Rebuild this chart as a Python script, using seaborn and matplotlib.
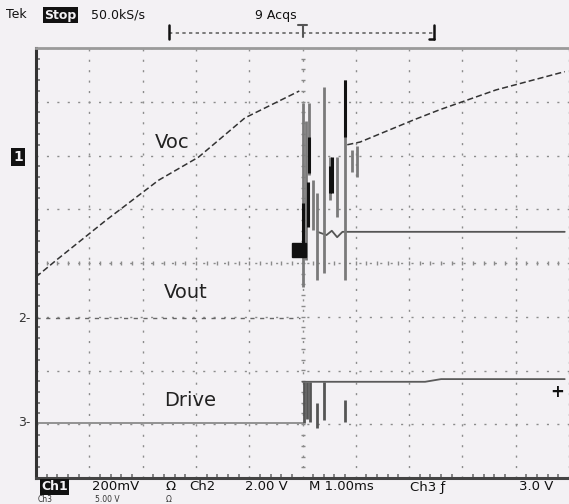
import numpy as np
import matplotlib.pyplot as plt
import seaborn as sns

# --------------------------
# Trace data (time in ms from trigger, level in screen divisions)
# --------------------------
voc_pre_t = [-5.0, -4.61, -3.68, -2.70, -1.95, -1.08, -0.06]
voc_pre_v = [-0.26, 0.06, 0.80, 1.54, 1.97, 2.70, 3.20]
voc_post_t = [0.84, 1.08, 2.08, 2.57, 3.63, 4.92]
voc_post_v = [2.20, 2.25, 2.66, 2.85, 3.22, 3.56]

vout_pre_t = [-5.0, -0.05]
vout_pre_v = [-1.02, -1.02]
vout_post_t = [0.28, 0.45, 0.55, 0.65, 0.75, 0.95, 4.92]
vout_post_v = [0.58, 0.52, 0.60, 0.48, 0.58, 0.58, 0.58]

drive_pre_t = [-5.0, 0.0]
drive_pre_v = [-2.98, -2.98]
drive_post_t = [0.0, 2.3, 2.6, 4.92]
drive_post_v = [-2.21, -2.21, -2.16, -2.16]

# ringing right after the switch event (vertical excursions)
ring_t = [0.0, 0.06, 0.13, 0.20, 0.28, 0.41, 0.52, 0.65, 0.80, 0.93, 1.02]
ring_hi = [2.98, 2.65, 2.98, 1.54, 1.30, 3.27, 1.97, 1.97, 3.40, 2.10, 2.18]
ring_lo = [-0.45, 0.06, 1.64, 0.61, -0.32, -0.19, 1.17, 0.86, -0.32, 1.69, 1.60]
dark_t = [0.0, 0.10, 0.13, 0.52, 0.56, 0.80]
dark_hi = [1.12, 1.50, 2.34, 1.80, 1.97, 3.40]
dark_lo = [0.30, 0.67, 1.67, 1.30, 1.30, 2.34]

drive_ring_t = [0.02, 0.08, 0.14, 0.28, 0.41, 0.80]
drive_ring_hi = [-2.21, -2.21, -2.21, -2.61, -2.21, -2.55]
drive_ring_lo = [-2.98, -2.90, -2.95, -3.07, -2.92, -2.95]

trig_t = [-0.06]
trig_v = [0.24]

# --------------------------
# Figure / screen
# --------------------------
sns.set_style("white")
plt.rcParams['font.family'] = ['DejaVu Sans']
bg = '#f3f1f4'

W, H = 569, 504
fig = plt.figure(figsize=(W / 100, H / 100), dpi=100, facecolor=bg)
ax = fig.add_axes([36 / W, (H - 478) / H, (W - 36) / W, 430 / H])
ax.set_facecolor(bg)
ax.set_xlim(-5, (W - 36) / 53.75 - 5)
ax.set_ylim(-4, 4)

# graticule
ax.set_xticks(np.arange(-5, 6))
ax.set_yticks(np.arange(-4, 5))
ax.set_xticklabels([])
ax.set_yticklabels([])
ax.grid(True, linestyle=(0, (1.5, 6)), color='#8c8c8c', lw=1.0)
ax.set_xticks(np.arange(-5, 5, 0.2), minor=True)
ax.set_yticks(np.arange(-4, 4, 0.2), minor=True)
ax.tick_params(which='major', length=0)
ax.tick_params(which='minor', direction='in', length=3, width=1.1, color='#666',
               left=True, bottom=True)
gx = np.arange(-5, 5, 0.2)
gy = np.arange(-4, 4, 0.2)
ax.plot(gx, np.zeros_like(gx), '|', ms=3.5, color='#8a8a8a', mew=1.0)
ax.plot(np.zeros_like(gy), gy, '_', ms=3.5, color='#8a8a8a', mew=1.0)

ax.spines['right'].set_visible(False)
ax.spines['left'].set_color('#333')
ax.spines['left'].set_linewidth(2.2)
ax.spines['bottom'].set_color('#444')
ax.spines['bottom'].set_linewidth(2.2)
ax.spines['top'].set_color('#9a9a9a')
ax.spines['top'].set_linewidth(2.0)

# --------------------------
# Traces
# --------------------------
trace_kw = dict(estimator=None, sort=False, ax=ax, legend=False)
sns.lineplot(x=voc_pre_t, y=voc_pre_v, color='#333', lw=1.1, **trace_kw)
ax.lines[-1].set_dashes((4, 2))
sns.lineplot(x=voc_post_t, y=voc_post_v, color='#333', lw=1.1, **trace_kw)
ax.lines[-1].set_dashes((4, 2))
sns.lineplot(x=vout_pre_t, y=vout_pre_v, color='#666', lw=1.0, **trace_kw)
ax.lines[-1].set_dashes((3, 4))
sns.lineplot(x=vout_post_t, y=vout_post_v, color='#555', lw=1.3, **trace_kw)
sns.lineplot(x=drive_pre_t, y=drive_pre_v, color='#8a8a8a', lw=1.3, **trace_kw)
sns.lineplot(x=drive_post_t, y=drive_post_v, color='#5a5a5a', lw=1.3, **trace_kw)

ax.vlines(ring_t, ring_lo, ring_hi, color='#7a7a7a', lw=2.0)
ax.vlines(dark_t, dark_lo, dark_hi, color='#111', lw=2.2)
ax.vlines(drive_ring_t, drive_ring_lo, drive_ring_hi, color='#555', lw=2.0)
ax.plot(trig_t, trig_v, 's', color='#111', ms=10, clip_on=False)

# trace names
ax.text(-2.45, 2.25, 'Voc', fontsize=14, color='#222', ha='center', va='center')
ax.text(-2.2, -0.55, 'Vout', fontsize=14, color='#222', ha='center', va='center')
ax.text(-2.1, -2.55, 'Drive', fontsize=14, color='#222', ha='center', va='center')
ax.text(4.78, -2.4, '+', fontsize=12, color='#111', ha='center', va='center',
        fontweight='bold')

# record view bracket above the screen
ax.plot([-2.51, 2.46], [4.28, 4.28], color='#666', lw=1.2, ls=(0, (2, 2)), clip_on=False)
ax.plot([-2.51, -2.51], [4.16, 4.42], color='#111', lw=1.8, clip_on=False)
ax.plot([2.46, 2.46], [4.16, 4.42], color='#111', lw=1.8, clip_on=False)
ax.plot([2.38, 2.46], [4.16, 4.16], color='#111', lw=1.8, clip_on=False)
ax.plot([0.0, 0.0], [4.2, 4.42], color='#555', lw=1.5, clip_on=False)
ax.plot([-0.08, 0.08], [4.42, 4.42], color='#555', lw=1.5, clip_on=False)

# --------------------------
# Screen readouts
# --------------------------
def ftext(px, py, s, **kw):
    kw.setdefault('fontsize', 9)
    kw.setdefault('color', '#111')
    fig.text(px / W, 1 - py / H, s, va='center', **kw)

ftext(6, 15, 'Tek')
ftext(44, 15, 'Stop', color=bg, fontweight='bold',
      bbox=dict(boxstyle='square,pad=0.1', fc='#111', ec='none'))
ftext(91, 15, '50.0kS/s')
ftext(255, 15, '9 Acqs')

ftext(13, 157, '1', color=bg, fontweight='bold', fontsize=10,
      bbox=dict(boxstyle='square,pad=0.15', fc='#111', ec='none'))
ftext(18, 318, '2-', fontsize=9, color='#333')
ftext(18, 423, '3-', fontsize=9, color='#333')

ftext(41, 487, 'Ch1', color=bg, fontweight='bold', fontsize=9,
      bbox=dict(boxstyle='square,pad=0.1', fc='#111', ec='none'))
ftext(92, 487, '200mV', fontsize=9.5)
ftext(166, 487, 'Ω', fontsize=9.5)
ftext(189, 487, 'Ch2', fontsize=9.5)
ftext(245, 487, '2.00 V', fontsize=9.5)
ftext(309, 487, 'M 1.00ms', fontsize=9.5)
ftext(410, 487, 'Ch3 ƒ', fontsize=9.5)
ftext(519, 487, '3.0 V', fontsize=9.5)
ftext(38, 499.5, 'Ch3', fontsize=5.5, color='#333')
ftext(95, 499.5, '5.00 V', fontsize=5.5, color='#333')
ftext(166, 499.5, 'Ω', fontsize=5.5, color='#333')

fig.savefig('out.png', dpi=100, facecolor=bg)
